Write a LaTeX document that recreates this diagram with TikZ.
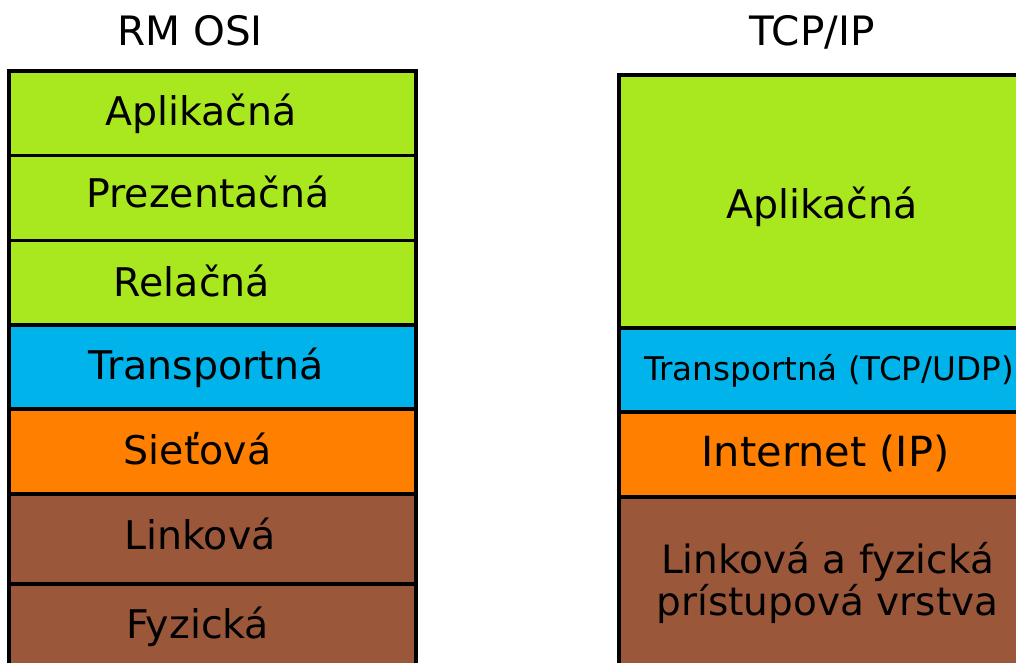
\documentclass[tikz,border=0pt]{standalone}
\usepackage{fontspec}
\setmainfont{DejaVu Sans}
\definecolor{laygreen}{RGB}{169,232,31}
\definecolor{layblue}{RGB}{0,180,235}
\definecolor{layorange}{RGB}{255,127,0}
\definecolor{laybrown}{RGB}{154,87,58}
\begin{document}
\begin{tikzpicture}[x=1pt,y=-1pt,
  layer/.style={draw=black, line width=3.3pt, rectangle, inner sep=0pt},
  lft/.style={layer, minimum width=407pt},
  rgt/.style={layer, minimum width=412pt},
  lbl/.style={inner sep=0pt, anchor=base, font=\fontsize{39.5}{44}\selectfont},
  title/.style={font=\fontsize{40.5}{44}\selectfont, inner sep=0pt, anchor=base}]
\useasboundingbox (0,0) rectangle (1016,662);
\clip (0,0) rectangle (1016,662);
\fill[white] (0,0) rectangle (1016,662);
% titles
\node[title] (tosi) at (190,45) {RM OSI};
\node[title] (ttcp) at (812,45) {TCP/IP};
% left stack
\node[lft, fill=laygreen, minimum height=84.5pt] (a1) at (212.5,113.25) {};
\node[lft, fill=laygreen, minimum height=85pt] (a2) at (212.5,198) {};
\node[lft, fill=laygreen, minimum height=84.5pt] (a3) at (212.5,282.75) {};
\node[lft, fill=layblue, minimum height=84pt] (a4) at (212.5,367) {};
\node[lft, fill=layorange, minimum height=85pt] (a5) at (212.5,451.5) {};
\node[lft, fill=laybrown, minimum height=90pt] (a6) at (212.5,539) {};
\node[lft, fill=laybrown, minimum height=88pt] (a7) at (212.5,628) {};
\node[lbl] (a1t) at (201,125) {Aplikačná};
\node[lbl] (a2t) at (208,207) {Prezentačná};
\node[lbl] (a3t) at (192,296) {Relačná};
\node[lbl] (a4t) at (206,379) {Transportná};
\node[lbl] (a5t) at (197.5,464) {Sieťová};
\node[lbl] (a6t) at (200,549) {Linková};
\node[lbl] (a7t) at (198,638) {Fyzická};
% right stack
\node[rgt, fill=laygreen, minimum height=253pt] (b1) at (825,201.5) {};
\node[rgt, fill=layblue, minimum height=84pt] (b2) at (825,370) {};
\node[rgt, fill=layorange, minimum height=85pt] (b3) at (825,454.5) {};
\node[rgt, fill=laybrown, minimum height=253pt] (b4) at (825,623.5) {};
\node[lbl] (b1t) at (822,218) {Aplikačná};
\node[lbl, font=\fontsize{32.6}{36}\selectfont] (b2t) at (829,380) {Transportná (TCP/UDP)};
\node[lbl, font=\fontsize{41.5}{44}\selectfont] (b3t) at (825.5,466) {Internet (IP)};
\node[lbl, font=\fontsize{39}{42}\selectfont] (b4t) at (827.5,573) {Linková a fyzická};
\node[lbl, font=\fontsize{39}{42}\selectfont] (b4u) at (827.5,615) {prístupová vrstva};
\end{tikzpicture}
\end{document}
